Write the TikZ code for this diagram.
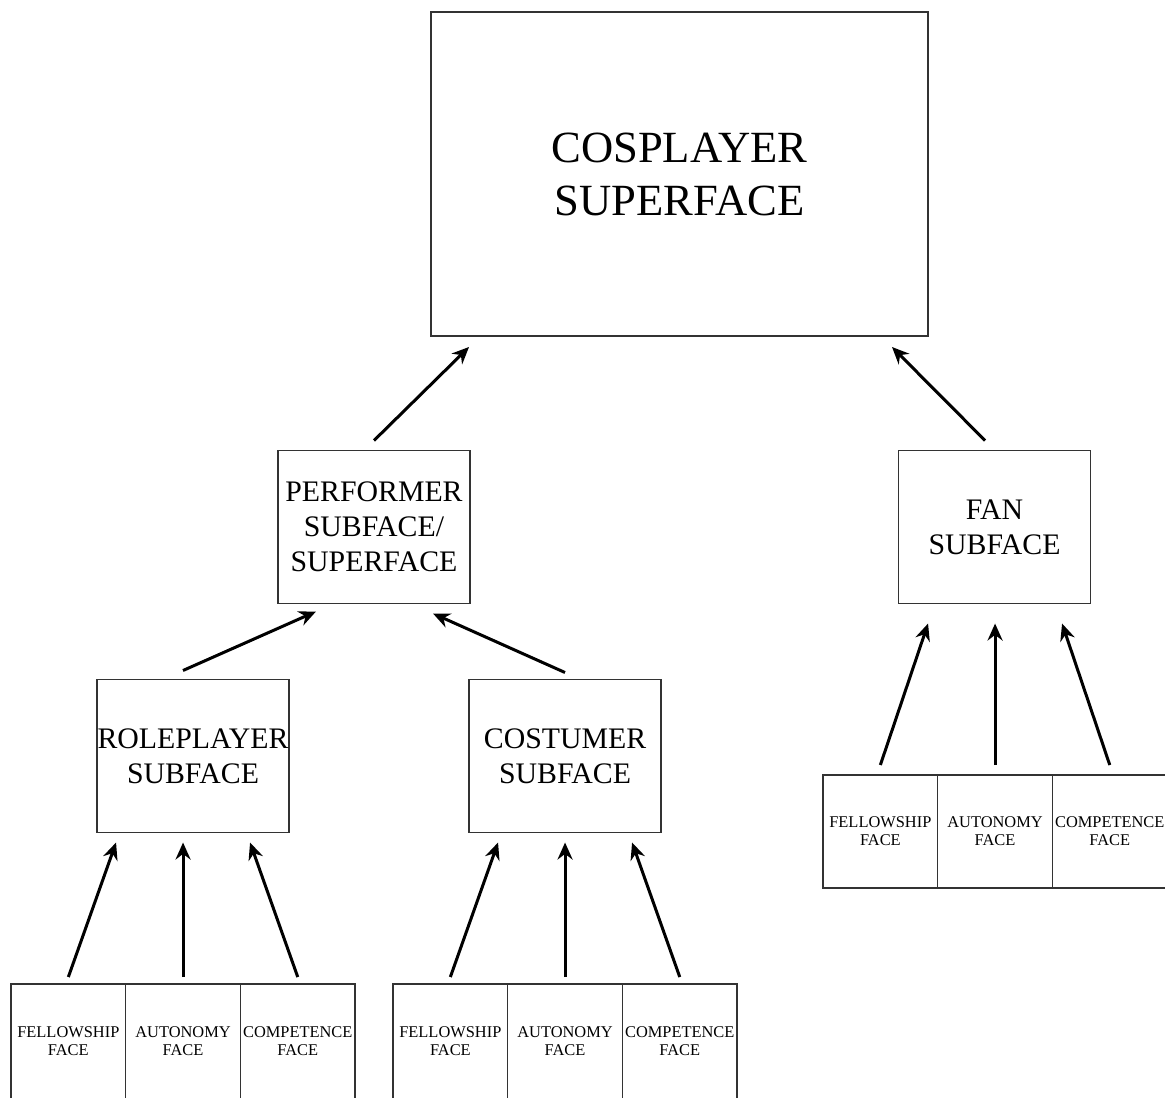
\documentclass[tikz,border=0pt]{standalone}
\usepackage{fontspec}
\setmainfont{Liberation Serif}
\usetikzlibrary{arrows.meta}
\begin{document}
\begin{tikzpicture}[x=0.5pt,y=-0.5pt,
  box/.style={draw=black!80,line width=0.7pt,align=center,inner sep=0pt,outer sep=0pt},
  superbox/.style={box,minimum width=248.5pt,minimum height=162pt,font=\fontsize{22.3}{26.5}\selectfont},
  subbox/.style={box,minimum width=96pt,minimum height=76.5pt,font=\fontsize{14.9}{17.5}\selectfont},
  facebox/.style={box,minimum width=57.35pt,font=\fontsize{8.2}{9}\selectfont},
  arr/.style={line width=1.5pt,-{Stealth[length=8.5pt,width=7.5pt,inset=2.8pt]}}]
\useasboundingbox (0,0) rectangle (1165,1097);
% faces
\node[superbox] (super) at (679.5,174) {COSPLAYER\\SUPERFACE};
\node[subbox] (perf) at (374,527) {PERFORMER\\SUBFACE/\\SUPERFACE};\node[subbox] (fan) at (994.5,527) {FAN\\SUBFACE};
\node[subbox] (role) at (193,756) {ROLEPLAYER\\SUBFACE};\node[subbox] (cost) at (565,756) {COSTUMER\\SUBFACE};
\draw[arr] ([shift={(0,-10)}]perf.north) -- ([shift={(38,11)}]super.south west);\draw[arr] ([shift={(-9.5,-10)}]fan.north) -- ([shift={(-36,11)}]super.south east);
\draw[arr] ([shift={(-10,-9)}]role.north) -- ([shift={(-58,8)}]perf.south);\draw[arr] ([shift={(0,-7)}]cost.north) -- ([shift={(59,10)}]perf.south);
% rows of small faces
\foreach \g/\x/\y/\h/\p/\t/\d in {r/11/1041.5/57.5/role/-7/10, c/393/1041.5/57.5/cost/-7/10, f/823/831.5/56.5/fan/-10/20}{
  \node[facebox,minimum height=\h pt,anchor=west] (\g fel) at (\x,\y) {FELLOWSHIP\\FACE};
  \node[facebox,minimum height=\h pt,anchor=west] (\g aut) at (\g fel.east) {AUTONOMY\\FACE};
  \node[facebox,minimum height=\h pt,anchor=west] (\g com) at (\g aut.east) {COMPETENCE\\FACE};
  \draw[arr] ([shift={(0,\t)}]\g fel.north) -- ([shift={(-67,\d)}]\g aut.north |- \p.south);
  \draw[arr] ([shift={(0,\t)}]\g aut.north) -- ([shift={(0,\d)}]\g aut.north |- \p.south);
  \draw[arr] ([shift={(0,\t)}]\g com.north) -- ([shift={(67,\d)}]\g aut.north |- \p.south);
}
\end{tikzpicture}
\end{document}
